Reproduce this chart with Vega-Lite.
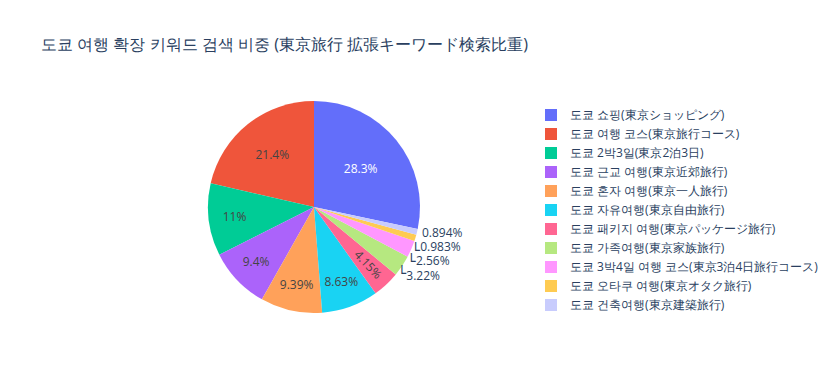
{
  "$schema": "https://vega.github.io/schema/vega-lite/v6.json",
  "width": 628,
  "height": 212,
  "autosize": {"type": "none"},
  "padding": {"left": 0, "top": 101, "right": 204, "bottom": 78},
  "background": "white",
  "title": {
    "text": "도쿄 여행 확장 키워드 검색 비중 (東京旅行 拡張キーワード検索比重)",
    "anchor": "start",
    "frame": "group",
    "dx": 41,
    "offset": 48,
    "baseline": "top",
    "font": "Open Sans",
    "fontSize": 16.25,
    "fontWeight": "normal",
    "color": "#2a3f5f"
  },
  "config": {
    "view": {"stroke": null},
    "legend": {
      "orient": "none",
      "legendX": 545,
      "legendY": 8,
      "symbolType": "square",
      "symbolSize": 144,
      "symbolStrokeWidth": 0,
      "symbolOpacity": 1,
      "labelFont": "Open Sans",
      "labelFontSize": 12,
      "labelColor": "#2a3f5f",
      "labelOffset": 13,
      "labelLimit": 400,
      "rowPadding": 7,
      "title": null
    }
  },
  "data": {
    "values": [
      {"name": "도쿄 쇼핑(東京ショッピング)", "share": 0.283},
      {"name": "도쿄 여행 코스(東京旅行コース)", "share": 0.214},
      {"name": "도쿄 2박3일(東京2泊3日)", "share": 0.11},
      {"name": "도쿄 근교 여행(東京近郊旅行)", "share": 0.094},
      {"name": "도쿄 혼자 여행(東京一人旅行)", "share": 0.0939},
      {"name": "도쿄 자유여행(東京自由旅行)", "share": 0.0863},
      {"name": "도쿄 패키지 여행(東京パッケージ旅行)", "share": 0.0415},
      {"name": "도쿄 가족여행(東京家族旅行)", "share": 0.0322},
      {"name": "도쿄 3박4일 여행 코스(東京3泊4日旅行コース)", "share": 0.0256},
      {"name": "도쿄 오타쿠 여행(東京オタク旅行)", "share": 0.00983},
      {"name": "도쿄 건축여행(東京建築旅行)", "share": 0.00894}
    ]
  },
  "encoding": {
    "theta": {"field": "share", "type": "quantitative", "stack": true, "scale": {"range": [1.7795, 8.0627]}},
    "order": {"field": "share", "type": "quantitative", "sort": "ascending"}
  },
  "layer": [
    {
      "mark": {"type": "arc", "stroke": null},
      "encoding": {
        "color": {
          "field": "name",
          "type": "nominal",
          "scale": {
            "domain": [
              "도쿄 쇼핑(東京ショッピング)",
              "도쿄 여행 코스(東京旅行コース)",
              "도쿄 2박3일(東京2泊3日)",
              "도쿄 근교 여행(東京近郊旅行)",
              "도쿄 혼자 여행(東京一人旅行)",
              "도쿄 자유여행(東京自由旅行)",
              "도쿄 패키지 여행(東京パッケージ旅行)",
              "도쿄 가족여행(東京家族旅行)",
              "도쿄 3박4일 여행 코스(東京3泊4日旅行コース)",
              "도쿄 오타쿠 여행(東京オタク旅行)",
              "도쿄 건축여행(東京建築旅行)"
            ],
            "range": ["#636efa", "#ef553b", "#00cc96", "#ab63fa", "#ffa15a", "#19d3f3", "#ff6692", "#b6e880", "#ff97ff", "#fecb52", "#c8ccfd"]
          },
          "legend": {}
        }
      }
    },
    {
      "mark": {"type": "text", "font": "Open Sans", "fontSize": 12, "color": "white", "baseline": "middle", "align": "center"},
      "encoding": {
        "radius": {"value": 60},
        "text": {"field": "share", "type": "quantitative", "format": ".3~%"},
        "opacity": {"condition": {"test": "datum.share == 0.283", "value": 1}, "value": 0}
      }
    },
    {
      "mark": {"type": "text", "font": "Open Sans", "fontSize": 12, "color": "#444", "baseline": "middle", "align": "center"},
      "encoding": {
        "radius": {"value": 67},
        "text": {"field": "share", "type": "quantitative", "format": ".3~%"},
        "opacity": {"condition": {"test": "datum.share == 0.214", "value": 1}, "value": 0}
      }
    },
    {
      "mark": {"type": "text", "font": "Open Sans", "fontSize": 12, "color": "#444", "baseline": "middle", "align": "center"},
      "encoding": {
        "radius": {"value": 80},
        "text": {"field": "share", "type": "quantitative", "format": ".3~%"},
        "opacity": {"condition": {"test": "datum.share > 0.05 && datum.share < 0.2", "value": 1}, "value": 0}
      }
    },
    {
      "mark": {"type": "text", "font": "Open Sans", "fontSize": 12, "color": "#444", "baseline": "middle", "align": "center", "angle": 47},
      "encoding": {
        "radius": {"value": 79},
        "text": {"field": "share", "type": "quantitative", "format": ".3~%"},
        "opacity": {"condition": {"test": "datum.share == 0.0415", "value": 1}, "value": 0}
      }
    },
    {
      "mark": {"type": "text", "font": "Open Sans", "fontSize": 12, "color": "#2a3f5f", "baseline": "middle", "align": "left", "dy": 0},
      "encoding": {
        "radius": {"value": 111},
        "text": {"field": "share", "type": "quantitative", "format": ".3~%"},
        "opacity": {"condition": {"test": "datum.share == 0.00894", "value": 1}, "value": 0}
      }
    },
    {
      "mark": {"type": "text", "font": "Open Sans", "fontSize": 12, "color": "#2a3f5f", "baseline": "middle", "align": "left", "dy": 8},
      "encoding": {
        "radius": {"value": 111},
        "text": {"field": "share", "type": "quantitative", "format": ".3~%"},
        "opacity": {"condition": {"test": "datum.share == 0.00983", "value": 1}, "value": 0}
      }
    },
    {
      "mark": {"type": "text", "font": "Open Sans", "fontSize": 12, "color": "#2a3f5f", "baseline": "middle", "align": "left", "dy": 10},
      "encoding": {
        "radius": {"value": 111},
        "text": {"field": "share", "type": "quantitative", "format": ".3~%"},
        "opacity": {"condition": {"test": "datum.share == 0.0256", "value": 1}, "value": 0}
      }
    },
    {
      "mark": {"type": "text", "font": "Open Sans", "fontSize": 12, "color": "#2a3f5f", "baseline": "middle", "align": "left", "dy": 7},
      "encoding": {
        "radius": {"value": 111},
        "text": {"field": "share", "type": "quantitative", "format": ".3~%"},
        "opacity": {"condition": {"test": "datum.share == 0.0322", "value": 1}, "value": 0}
      }
    },
    {
      "mark": {"type": "text", "font": "DejaVu Sans", "fontSize": 14, "color": "#2a3f5f", "baseline": "alphabetic", "align": "center", "dx": 0, "dy": 17, "text": "└"},
      "encoding": {
        "radius": {"value": 106},
        "opacity": {"condition": {"test": "datum.share == 0.00983", "value": 1}, "value": 0}
      }
    },
    {
      "mark": {"type": "text", "font": "DejaVu Sans", "fontSize": 14, "color": "#2a3f5f", "baseline": "alphabetic", "align": "center", "dx": 0, "dy": 17, "text": "└"},
      "encoding": {
        "radius": {"value": 106},
        "opacity": {"condition": {"test": "datum.share == 0.0256", "value": 1}, "value": 0}
      }
    },
    {
      "mark": {"type": "text", "font": "DejaVu Sans", "fontSize": 14, "color": "#2a3f5f", "baseline": "alphabetic", "align": "center", "dx": -0.5, "dy": 12, "text": "└"},
      "encoding": {
        "radius": {"value": 106},
        "opacity": {"condition": {"test": "datum.share == 0.0322", "value": 1}, "value": 0}
      }
    }
  ]
}
